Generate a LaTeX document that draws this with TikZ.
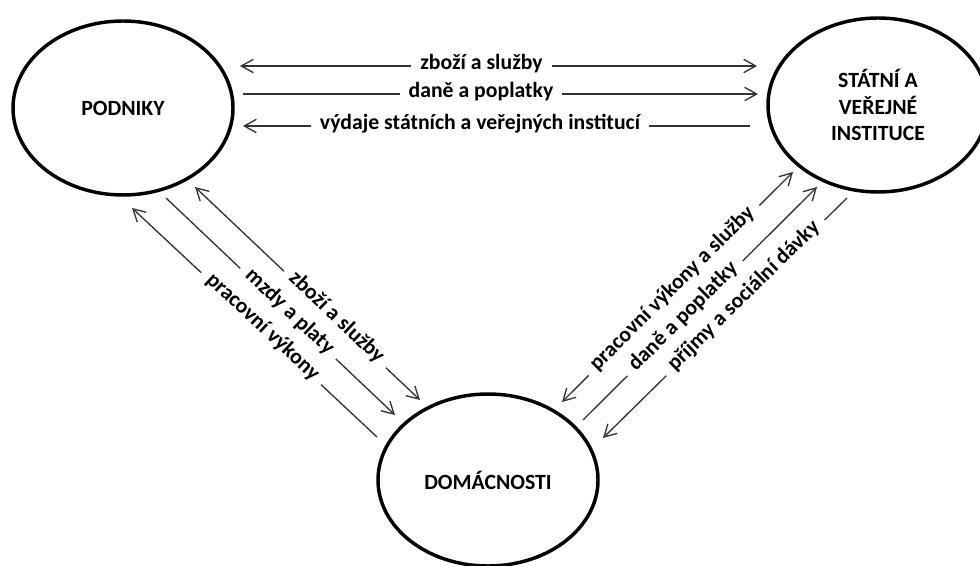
\documentclass[tikz,border=0pt]{standalone}
\usepackage{fontspec}
\setmainfont{Carlito}
\usetikzlibrary{arrows.meta,shapes.geometric,calc}
\begin{document}
\begin{tikzpicture}[x=0.75pt,y=-0.75pt,
  sector/.style={ellipse, draw, line width=2.6pt, inner sep=0pt,
    minimum width=165pt, minimum height=130.5pt,
    font=\fontsize{16.3}{19.6}\selectfont\bfseries, align=center},
  flow/.style={line width=1pt, draw=black!80},
  tip/.style={-{Straight Barb[length=9pt,width=10pt]}},
  lbl/.style={font=\fontsize{16.3}{19.6}\selectfont\bfseries,
    inner xsep=6.5pt, inner ysep=0pt, text height=0.72em, text depth=0.22em}
]
\useasboundingbox (0,0) rectangle (980,566);

% sectors
\node[sector] (pod) at (123,108) {PODNIKY};
\node[sector] (stat) at (878,105) {STÁTNÍ A\\VEŘEJNÉ\\INSTITUCE};
\node[sector, minimum height=129pt] (dom) at (488,480) {DOMÁCNOSTI};

% horizontal flows
\coordinate (h1a) at (240,66);  \coordinate (h1b) at (757,66);
\coordinate (h2a) at (243,94);  \coordinate (h2b) at (758,94);
\coordinate (h3a) at (243,126); \coordinate (h3b) at (750,126);
\node[lbl] (h1) at (481.5,66) {zboží a služby};
\node[lbl] (h2) at (481,94) {daně a poplatky};
\node[lbl] (h3) at (480,126) {výdaje státních a veřejných institucí};
\draw[flow,tip] (h1) -- (h1a);
\draw[flow,tip] (h1) -- (h1b);
\draw[flow] (h2a) -- (h2);
\draw[flow,tip] (h2) -- (h2b);
\draw[flow,tip] (h3) -- (h3a);
\draw[flow] (h3) -- (h3b);

% left diagonal flows (PODNIKY - DOMACNOSTI)
\coordinate (l1a) at (195,187); \coordinate (l1b) at (420,400);
\coordinate (l2a) at (166,198); \coordinate (l2b) at (395,415);
\coordinate (l3a) at (132,208); \coordinate (l3b) at (377,437);
\path (l1a) -- node[lbl, sloped, pos=0.622] (l1) {zboží a služby} (l1b);
\path (l2a) -- node[lbl, sloped, pos=0.533] (l2) {mzdy a platy} (l2b);
\path (l3a) -- node[lbl, sloped, pos=0.527] (l3) {pracovní výkony} (l3b);
\draw[flow,tip] (l1) -- (l1a);
\draw[flow,tip] (l1) -- (l1b);
\draw[flow] (l2a) -- (l2);
\draw[flow,tip] (l2) -- (l2b);
\draw[flow,tip] (l3) -- (l3a);
\draw[flow] (l3) -- (l3b);

% right diagonal flows (STATNI - DOMACNOSTI)
\coordinate (r1a) at (793,172); \coordinate (r1b) at (562,402);
\coordinate (r2a) at (817,187); \coordinate (r2b) at (583,420);
\coordinate (r3a) at (847,198); \coordinate (r3b) at (603,438);
\path (r1a) -- node[lbl, sloped, pos=0.515] (r1) {pracovní výkony a služby} (r1b);
\path (r2a) -- node[lbl, sloped, pos=0.564] (r2) {daně a poplatky} (r2b);
\path (r3a) -- node[lbl, sloped, pos=0.416] (r3) {příjmy a sociální dávky} (r3b);
\draw[flow,tip] (r1) -- (r1a);
\draw[flow,tip] (r1) -- (r1b);
\draw[flow,tip] (r2) -- (r2a);
\draw[flow] (r2) -- (r2b);
\draw[flow] (r3a) -- (r3);
\draw[flow,tip] (r3) -- (r3b);
\end{tikzpicture}
\end{document}
